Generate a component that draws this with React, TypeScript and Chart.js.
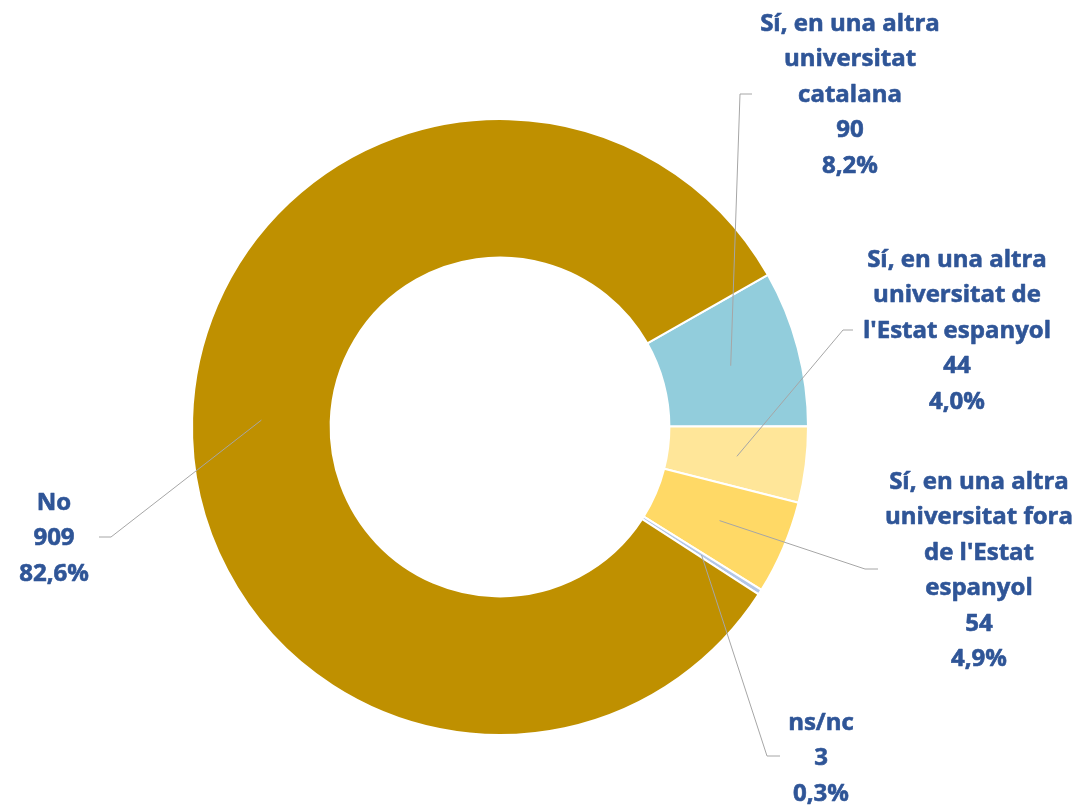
import React, { useEffect, useRef } from "react";
import { Chart, registerables } from "chart.js";

Chart.register(...registerables);

// ---- Data ----
const categories = [
  "Sí, en una altra universitat catalana",
  "Sí, en una altra universitat de l'Estat espanyol",
  "Sí, en una altra universitat fora de l'Estat espanyol",
  "ns/nc",
  "No",
];
const categoryLines = [
  ["Sí, en una altra", "universitat", "catalana"],
  ["Sí, en una altra", "universitat de", "l'Estat espanyol"],
  ["Sí, en una altra", "universitat fora", "de l'Estat", "espanyol"],
  ["ns/nc"],
  ["No"],
];
const values = [90, 44, 54, 3, 909];
const colors = ["#92CDDC", "#FFE699", "#FFD966", "#B4C7E7", "#BF9000"];

// ---- Label layout (annotation positions) ----
const labelLayout = [
  { x: 850, y: 24, elbowX: 740, elbowY: 94, endX: 752 },
  { x: 957, y: 260, elbowX: 843, elbowY: 330, endX: 853 },
  { x: 979, y: 482, elbowX: 865, elbowY: 569, endX: 878 },
  { x: 821, y: 723, elbowX: 767, elbowY: 756, endX: 780 },
  { x: 54, y: 503, elbowX: 111, elbowY: 537, endX: 99 },
];

const LINE_H = 35.5;
const FONT = "bold 24px 'Open Sans'";
const TEXT_COLOR = "#2F5597";

const labelPlugin = {
  id: "sliceLabels",
  afterDatasetsDraw(chart: any) {
    const ctx = chart.ctx;
    const meta = chart.getDatasetMeta(0);
    const total = values.reduce((a, b) => a + b, 0);
    meta.data.forEach((arc: any, i: number) => {
      const p = arc.getCenterPoint();
      const L = labelLayout[i];
      ctx.save();
      ctx.strokeStyle = "#A6A6A6";
      ctx.lineWidth = 1;
      ctx.beginPath();
      ctx.moveTo(p.x, p.y);
      ctx.lineTo(L.elbowX, L.elbowY);
      ctx.lineTo(L.endX, L.elbowY);
      ctx.stroke();
      const pct = ((values[i] / total) * 100).toFixed(1).replace(".", ",") + "%";
      const lines = [...categoryLines[i], String(values[i]), pct];
      ctx.font = FONT;
      ctx.fillStyle = TEXT_COLOR;
      ctx.strokeStyle = TEXT_COLOR;
      ctx.lineWidth = 0.6;
      ctx.lineJoin = "round";
      ctx.textAlign = "center";
      ctx.textBaseline = "middle";
      lines.forEach((t, k) => {
        ctx.fillText(t, L.x, L.y + k * LINE_H);
        ctx.strokeText(t, L.x, L.y + k * LINE_H);
      });
      ctx.restore();
    });
  },
};

export default function App() {
  const ref = useRef<HTMLCanvasElement>(null);
  useEffect(() => {
    if (!ref.current) return;
    const chart = new Chart(ref.current, {
      type: "doughnut",
      data: {
        labels: categories,
        datasets: [
          {
            data: values,
            backgroundColor: colors,
            borderColor: "#FFFFFF",
            borderWidth: 2,
          },
        ],
      },
      options: {
        responsive: false,
        animation: false,
        cutout: "55%",
        rotation: 60.4,
        layout: { padding: { left: 191, right: 269, top: 118, bottom: 71 } },
        plugins: {
          legend: { display: false },
          tooltip: { enabled: false },
        },
      },
      plugins: [labelPlugin],
    });
    return () => chart.destroy();
  }, []);
  return (
    <div style={{ position: "absolute", left: 0, top: 0, width: 1078, height: 807, background: "#fff" }}>
      <canvas ref={ref} width={1078} height={807} />
    </div>
  );
}
